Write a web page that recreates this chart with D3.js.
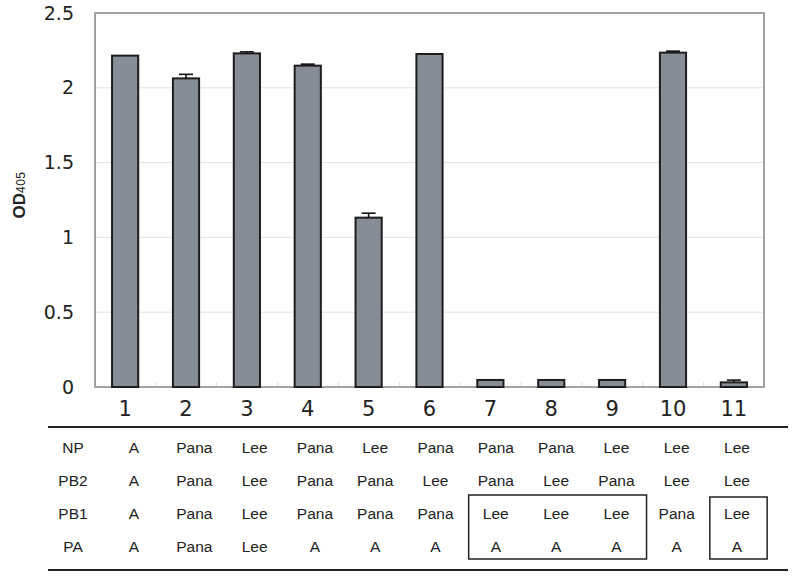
<!DOCTYPE html>
<html>
<head>
<meta charset="utf-8">
<script src="https://cdn.jsdelivr.net/npm/d3@7"></script>
<style>
  body { margin: 0; background: #fff; }
  svg text { font-family: "Liberation Sans", Arial, sans-serif; fill: #222; }
</style>
</head>
<body>
<svg id="chart" width="800" height="581"></svg>
<script>
// lanes 1..11 and the measured OD405 values
const lanes = ["1", "2", "3", "4", "5", "6", "7", "8", "9", "10", "11"];
const od = [2.215, 2.063, 2.23, 2.148, 1.132, 2.226, 0.047, 0.047, 0.047, 2.235, 0.031];
const err = [0.0, 0.027, 0.01, 0.01, 0.03, 0.0, 0.0, 0.0, 0.0, 0.01, 0.015];
const yTicks = [0, 0.5, 1, 1.5, 2, 2.5];

// segment origin table under the chart
const rowNames = ["NP", "PB2", "PB1", "PA"];
const npRow = ["A", "Pana", "Lee", "Pana", "Lee", "Pana", "Pana", "Pana", "Lee", "Lee", "Lee"];
const pb2Row = ["A", "Pana", "Lee", "Pana", "Pana", "Lee", "Pana", "Lee", "Pana", "Lee", "Lee"];
const pb1Row = ["A", "Pana", "Lee", "Pana", "Pana", "Pana", "Lee", "Lee", "Lee", "Pana", "Lee"];
const paRow = ["A", "Pana", "Lee", "A", "A", "A", "A", "A", "A", "A", "A"];
const boxed = [["7", "9"], ["11", "11"]];

const svg = d3.select("#chart");
const plotL = 95, plotR = 764, plotT = 13, plotB = 387;

const x = d3.scaleBand().domain(lanes).range([plotL, plotR]).paddingInner(0.57).paddingOuter(0.28);
const y = d3.scaleLinear().domain([0, 2.5]).range([plotB, plotT]);

// gridlines
svg.append("g")
  .selectAll("line")
  .data(yTicks.filter(t => t > 0 && t < 2.5))
  .join("line")
  .attr("x1", plotL).attr("x2", plotR)
  .attr("y1", d => y(d)).attr("y2", d => y(d))
  .attr("stroke", "#e2e2e2").attr("stroke-width", 1);

// small ticks between lanes along the baseline
const step = x.step();
svg.append("g")
  .selectAll("line")
  .data(d3.range(1, lanes.length))
  .join("line")
  .attr("x1", i => plotL + i * step).attr("x2", i => plotL + i * step)
  .attr("y1", plotB).attr("y2", plotB - 5)
  .attr("stroke", "#d8dde0");

// frame
svg.append("rect")
  .attr("x", plotL).attr("y", plotT)
  .attr("width", plotR - plotL).attr("height", plotB - plotT)
  .attr("fill", "none").attr("stroke", "#a3a3a3").attr("stroke-width", 2);

// y axis labels
const yAxis = d3.axisLeft(y).tickValues(yTicks).tickSize(0).tickPadding(21).tickFormat(d3.format(""));
const ya = svg.append("g").attr("transform", `translate(${plotL},0)`).call(yAxis);
ya.select(".domain").remove();
ya.selectAll("text")
  .attr("font-size", 19)
  .style("font-family", "'DejaVu Sans', sans-serif")
  .attr("fill", "#222");

// bars
svg.append("g")
  .selectAll("rect")
  .data(lanes)
  .join("rect")
  .attr("x", d => x(d))
  .attr("y", (d, i) => y(od[i]))
  .attr("width", x.bandwidth())
  .attr("height", (d, i) => plotB - y(od[i]))
  .attr("fill", "#878d96")
  .attr("stroke", "#1e1e1e")
  .attr("stroke-width", 2);

// error bars (upper only)
const eb = svg.append("g").attr("stroke", "#111").attr("stroke-width", 1.6);
lanes.forEach((d, i) => {
  if (!err[i]) return;
  const cx = x(d) + x.bandwidth() / 2;
  eb.append("line").attr("x1", cx).attr("x2", cx).attr("y1", y(od[i])).attr("y2", y(od[i] + err[i]));
  eb.append("line").attr("x1", cx - 7).attr("x2", cx + 7).attr("y1", y(od[i] + err[i])).attr("y2", y(od[i] + err[i]));
});

// x axis lane numbers
const xAxis = d3.axisBottom(x).tickSize(0).tickPadding(14);
const xa = svg.append("g").attr("transform", `translate(0,${plotB})`).call(xAxis);
xa.select(".domain").remove();
xa.selectAll("text")
  .attr("font-size", 21)
  .style("font-family", "'DejaVu Sans', sans-serif")
  .attr("fill", "#222");

// y title OD405
const yt = svg.append("text")
  .attr("transform", "translate(25,195) rotate(-90)")
  .attr("text-anchor", "middle")
  .attr("font-size", 17);
yt.append("tspan").attr("font-weight", "bold").text("OD");
yt.append("tspan").attr("font-size", 12).attr("letter-spacing", 0.5).text("405");

// table
const col = d3.scalePoint().domain(lanes).range([134, 737]);
const rowY = d3.scalePoint().domain(rowNames).range([448, 547]);
const rows = [npRow, pb2Row, pb1Row, paRow];

svg.append("line").attr("x1", 48).attr("x2", 788).attr("y1", 427).attr("y2", 427)
  .attr("stroke", "#222").attr("stroke-width", 2);
svg.append("line").attr("x1", 48).attr("x2", 788).attr("y1", 570).attr("y2", 570)
  .attr("stroke", "#222").attr("stroke-width", 2);

const tbl = svg.append("g").attr("font-size", 15.5);
rowNames.forEach((r, ri) => {
  tbl.append("text")
    .attr("x", 73).attr("y", rowY(r)).attr("dy", "0.35em")
    .attr("text-anchor", "middle").text(r);
  tbl.selectAll(null)
    .data(rows[ri])
    .join("text")
    .attr("x", (d, i) => col(lanes[i]))
    .attr("y", rowY(r)).attr("dy", "0.35em")
    .attr("text-anchor", "middle")
    .text(d => d);
});

// boxes round PB1/PA of lanes 7-9 and 11
const half = col.step() / 2;
svg.append("g")
  .selectAll("rect")
  .data(boxed)
  .join("rect")
  .attr("x", d => col(d[0]) - half + 3)
  .attr("y", (d, i) => i === 0 ? 495 : 497)
  .attr("width", d => col(d[1]) - col(d[0]) + 2 * half - 3)
  .attr("height", (d, i) => i === 0 ? 64 : 62)
  .attr("fill", "none").attr("stroke", "#222").attr("stroke-width", 1.5);
</script>
</body>
</html>
